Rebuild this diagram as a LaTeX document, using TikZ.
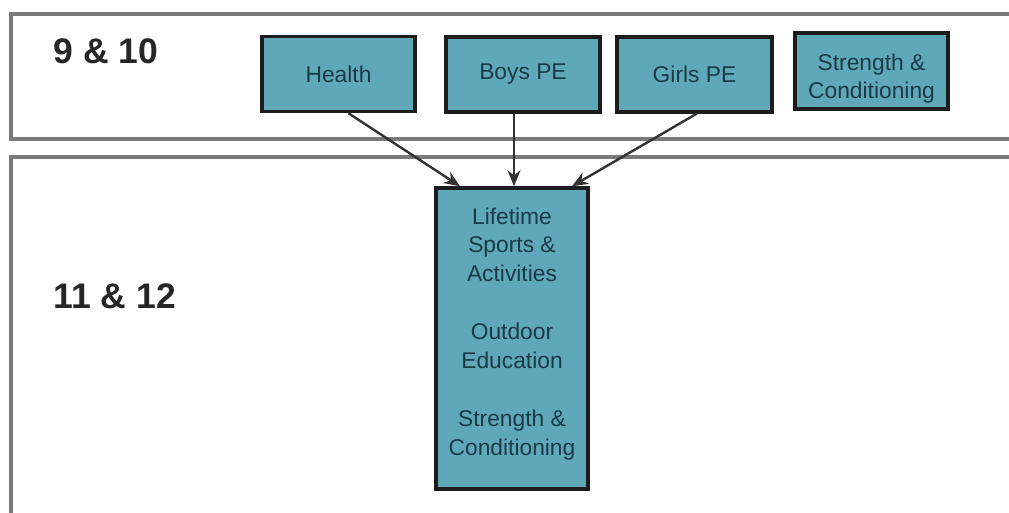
\documentclass[tikz,border=0pt]{standalone}
\usepackage{fontspec}
\setmainfont{Liberation Sans}
\usetikzlibrary{arrows.meta}
\definecolor{frame}{HTML}{7A7A7A}
\definecolor{teal}{HTML}{5FA8BA}
\definecolor{edge}{HTML}{1C1C1C}
\definecolor{txt}{HTML}{1B3A48}
\tikzset{
  band/.style={draw=frame, line width=4pt},
  course/.style={draw=edge, fill=teal, line width=3.5pt, text=txt, align=center,
    font=\fontsize{22.8}{28.5}\selectfont, inner sep=0pt},
  label/.style={text=txt, align=center, font=\fontsize{22.8}{28.5}\selectfont, inner sep=0pt},
  grade/.style={font=\fontsize{35.5}{40}\selectfont\bfseries, text=black!85, anchor=west},
  link/.style={draw=edge!90, line width=2.4pt, -{Stealth[length=16pt,width=13pt]}}
}
\begin{document}
\begin{tikzpicture}[x=1pt,y=-1pt]
\useasboundingbox (0,0) rectangle (1009,512);
\clip (0,0) rectangle (1009,512);
\fill[white] (0,0) rectangle (1009,512);
\draw[band] (11,14) rectangle (1030,139);
\draw[band] (11,157) rectangle (1030,540);
\node[grade] (g1) at (50,51) {9 \& 10};
\node[grade] (g2) at (50,296) {11 \& 12};
\node[course, minimum width=153pt, minimum height=75pt] (health) at (338.5,74) {Health};
\node[course, minimum width=154pt, minimum height=75pt] (boys) at (523,74.5) {Boys PE};
\node[course, minimum width=155pt, minimum height=75pt] (girls) at (694.5,74.5) {Girls PE};
\node[course, minimum width=153pt, minimum height=76pt] (sc) at (871.5,71) {};
\node[label] (sctext) at ([yshift=-7.5pt]sc.center) {Strength \&\\Conditioning};
\node[course, minimum width=152pt, minimum height=301pt] (big) at (512,338.5) {};
\node[label] (bigtext) at ([yshift=4.5pt]big.center) {Lifetime\\Sports \&\\Activities\\[30pt]Outdoor\\Education\\[30pt]Strength \&\\Conditioning};
\draw[link] ([xshift=10pt]health.south) -- ([xshift=-52pt]big.north);
\draw[link] ([xshift=-9pt]boys.south) -- ([xshift=2pt]big.north);
\draw[link] ([xshift=2pt]girls.south) -- ([xshift=60pt]big.north);
\end{tikzpicture}
\end{document}
